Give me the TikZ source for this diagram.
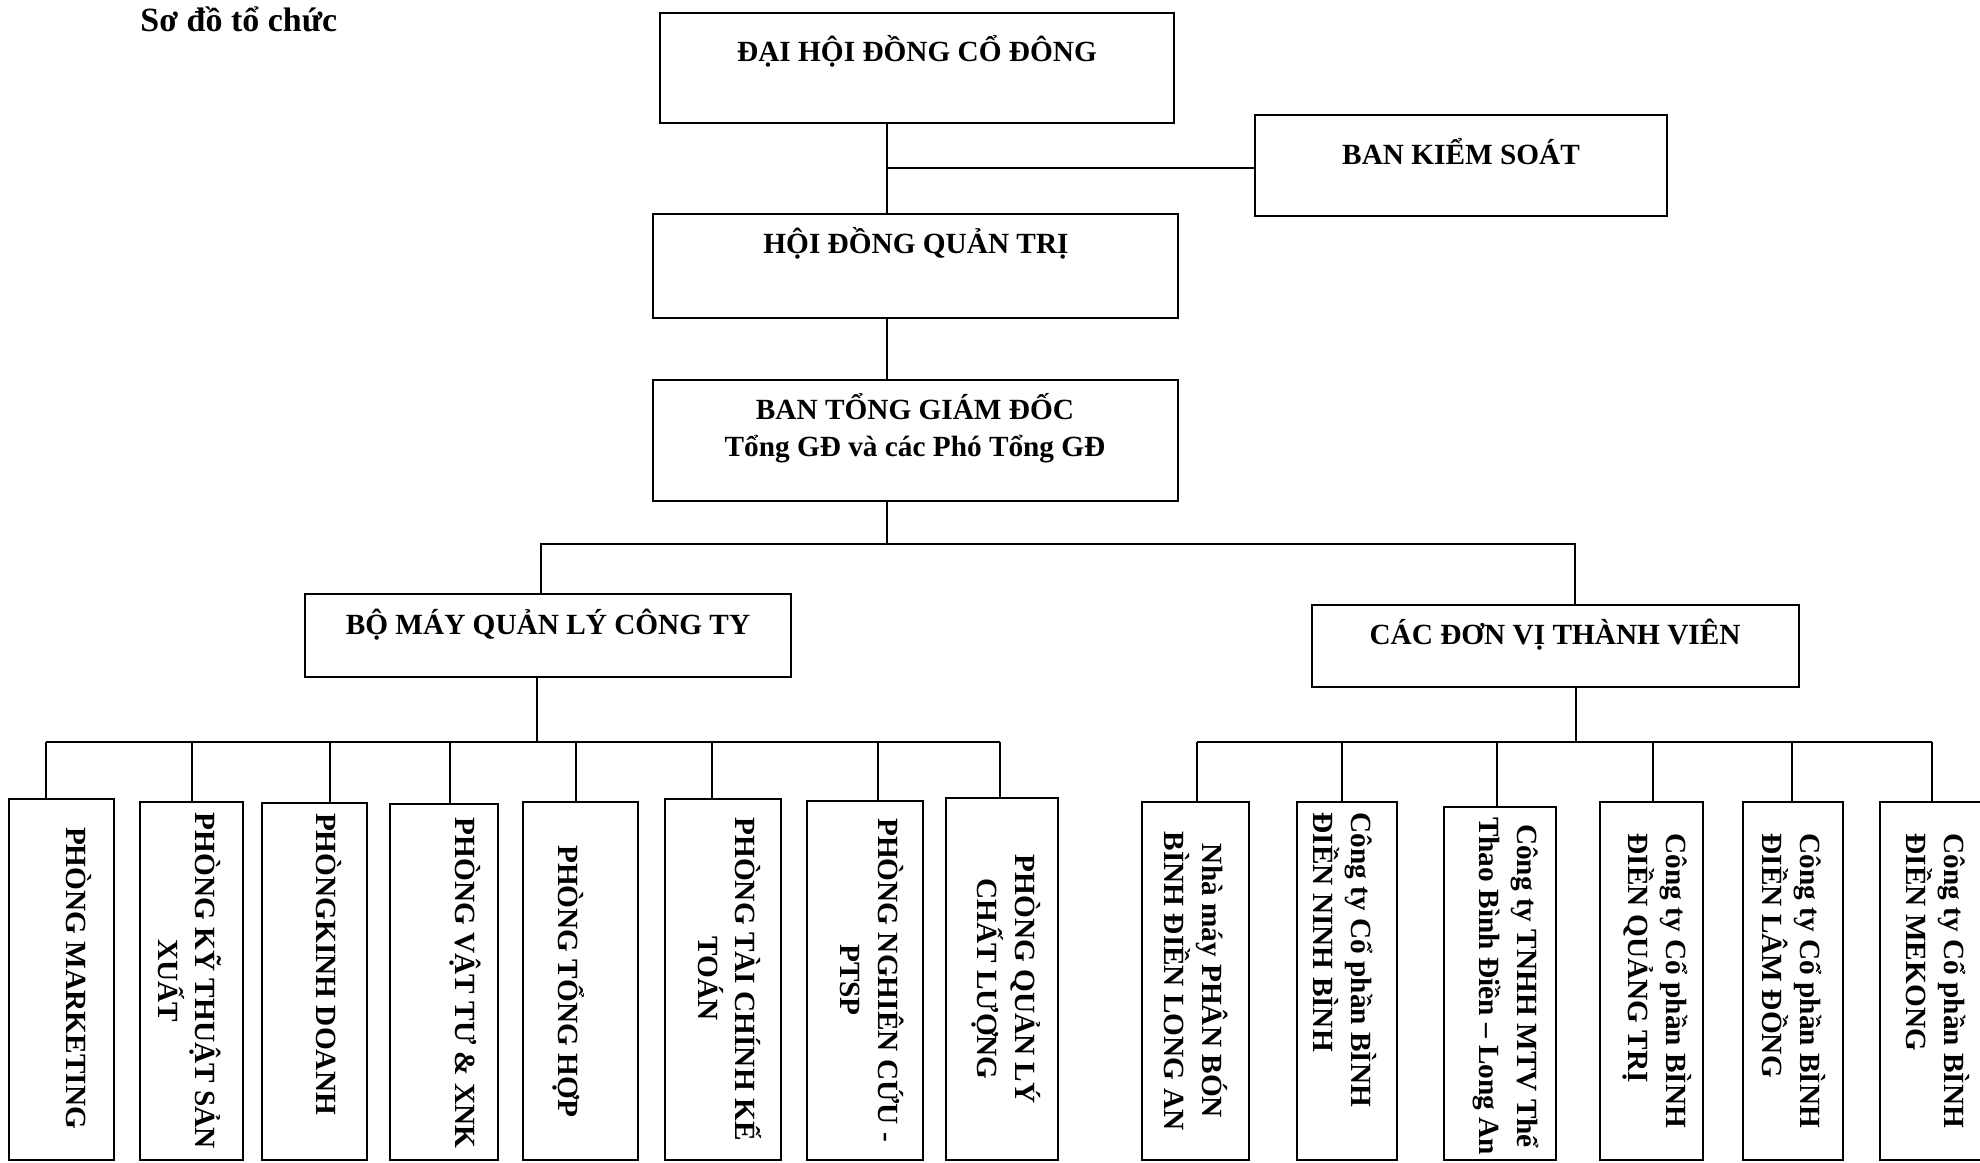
\documentclass[tikz,border=0pt]{standalone}
\usepackage{fontspec}
\setmainfont{Liberation Serif}
\usetikzlibrary{fit}
\tikzset{
  unitbox/.style={draw, line width=0.8pt, inner sep=0pt},
  lbl/.style={font=\fontsize{12.5}{16}\selectfont\bfseries, inner sep=0pt},
  vlbl/.style={lbl, xshift=1.7pt, rotate=-90, align=center},
  link/.style={line width=0.6pt},
}
\begin{document}
\begin{tikzpicture}[x=0.015cm, y=-0.015cm]
  \useasboundingbox (0,0) rectangle (1980,1162);
  \node[lbl, font=\fontsize{14.5}{17}\selectfont\bfseries, anchor=base west] (title) at (140,31) {Sơ đồ tổ chức};
  % cấp điều hành
  \node[unitbox, fit={(660,13) (1174,123)}] (dhd) {};
  \node[lbl, anchor=base] (dhd-t) at (917,61) {ĐẠI HỘI ĐỒNG CỔ ĐÔNG};
  \node[unitbox, fit={(1255,115) (1667,216)}] (bks) {};
  \node[lbl, anchor=base] (bks-t) at (1461,164) {BAN KIỂM SOÁT};
  \node[unitbox, fit={(653,214) (1178,318)}] (hdqt) {};
  \node[lbl, anchor=base] (hdqt-t) at (916,253) {HỘI ĐỒNG QUẢN TRỊ};
  \node[unitbox, fit={(653,380) (1178,501)}] (btgd) {};
  \node[lbl, align=center] (btgd-t) at (915,428) {BAN TỔNG GIÁM ĐỐC\\Tổng GĐ và các Phó Tổng GĐ};
  \node[unitbox, fit={(305,594) (791,677)}] (bmql) {};
  \node[lbl, anchor=base] (bmql-t) at (548,634) {BỘ MÁY QUẢN LÝ CÔNG TY};
  \node[unitbox, fit={(1312,605) (1799,687)}] (cdv) {};
  \node[lbl, anchor=base] (cdv-t) at (1555,644) {CÁC ĐƠN VỊ THÀNH VIÊN};
  \coordinate (spine) at (887,544);
  \coordinate (busl) at (541,544);
  \coordinate (busr) at (1575,544);
  \coordinate (bks-l) at (1255,168);
  \draw[link] (spine |- dhd.south) -- (spine |- hdqt.north);
  \draw[link] (spine |- bks-l) -- (bks-l);
  \draw[link] (spine |- hdqt.south) -- (spine |- btgd.north);
  \draw[link] (spine |- btgd.south) -- (spine);
  \draw[link] (busl |- bmql.north) -- (busl) -- (busr) -- (busr |- cdv.north);
  % các phòng ban
  \foreach \n/\xa/\xb/\ya/\dx/\tx/\ty/\txt in {
    mkt/9/114/799/46/75/978/{PHÒNG MARKETING},
    ktsx/140/243/802/192/186/981/{PHÒNG KỸ THUẬT SẢN\\XUẤT},
    kd/262/367/803/330/325/964/{PHÒNGKINH DOANH},
    vt/390/498/804/450/461/983/{PHÒNG VẬT TƯ \& XNK},
    th/523/638/802/576/565/981/{PHÒNG TỔNG HỢP},
    tc/665/781/799/712/726/979/{PHÒNG TÀI CHÍNH KẾ\\TOÁN},
    nc/807/923/801/878/868/980/{PHÒNG NGHIÊN CỨU -\\PTSP},
    ql/946/1058/798/1000/1002/979/{PHÒNG QUẢN LÝ\\CHẤT LƯỢNG}}{
    \node[unitbox, fit={(\xa,\ya) (\xb,1160)}] (\n) {};
    \node[vlbl] (\n-t) at (\tx,\ty) {\txt};
    \coordinate (\n-d) at (\dx,742);
    \draw[link] (\n-d) -- (\n-d |- \n.north);
  }
  % các đơn vị thành viên
  \foreach \n/\xa/\xb/\ya/\dx/\tx/\ty/\al/\txt in {
    nm/1142/1249/802/1197/1192/981/center/{Nhà máy PHÂN BÓN\\BÌNH ĐIỀN LONG AN},
    nb/1297/1397/802/1342/1341/960/left/{Công ty Cổ phần BÌNH\\ĐIỀN NINH BÌNH},
    tt/1444/1556/807/1497/1502/986/center/{Công ty TNHH MTV Thể\\Thao Bình Điền – Long An},
    qt/1600/1703/802/1653/1653/981/left/{Công ty Cổ phần BÌNH\\ĐIỀN QUẢNG TRỊ},
    ld/1743/1843/802/1792/1790/981/left/{Công ty Cổ phần BÌNH\\ĐIỀN LÂM ĐỒNG},
    mk/1880/2000/802/1932/1934/981/left/{Công ty Cổ phần BÌNH\\ĐIỀN MEKONG}}{
    \node[unitbox, fit={(\xa,\ya) (\xb,1160)}] (\n) {};
    \node[vlbl, align=\al] (\n-t) at (\tx,\ty) {\txt};
    \coordinate (\n-d) at (\dx,742);
    \draw[link] (\n-d) -- (\n-d |- \n.north);
  }
  \coordinate (bmql-d) at (537,742);
  \coordinate (cdv-d) at (1576,742);
  \draw[link] (bmql-d |- bmql.south) -- (bmql-d);
  \draw[link] (cdv-d |- cdv.south) -- (cdv-d);
  \draw[link] (mkt-d) -- (ql-d);
  \draw[link] (nm-d) -- (mk-d);
\end{tikzpicture}
\end{document}
